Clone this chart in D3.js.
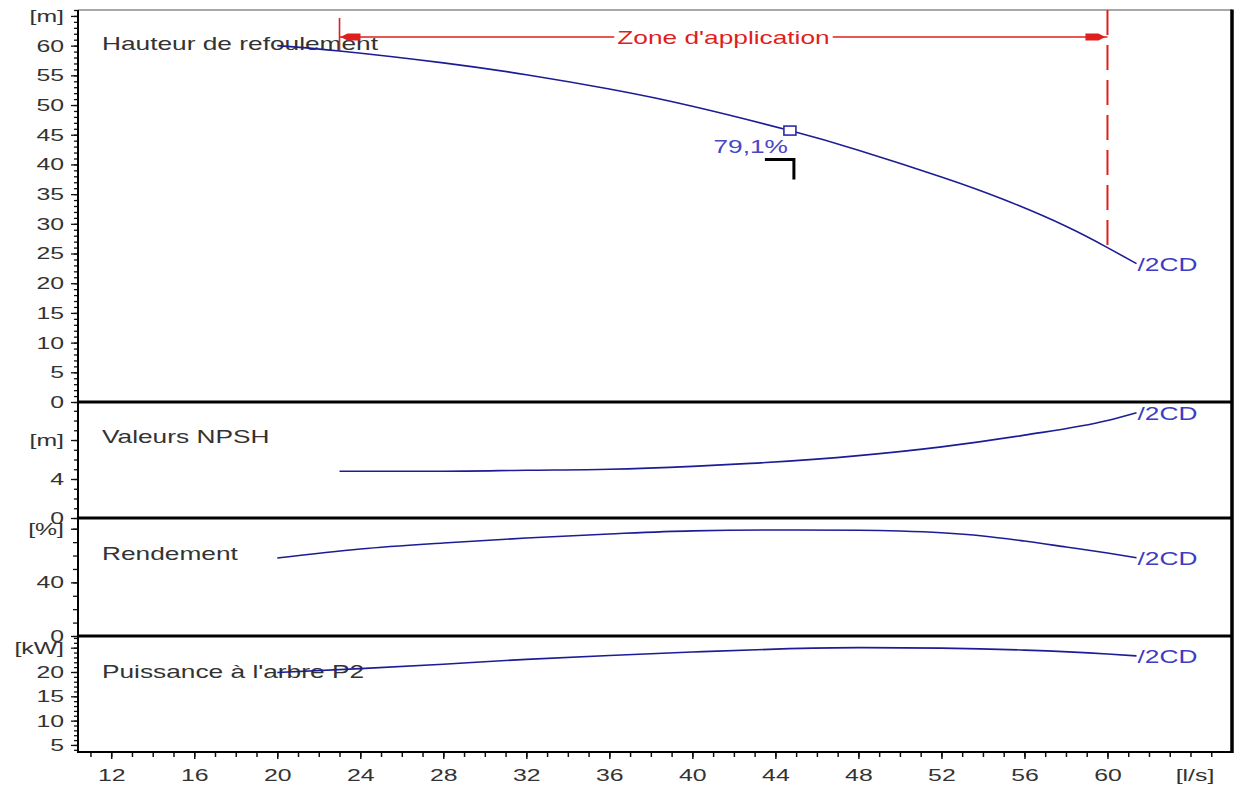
<!DOCTYPE html>
<html>
<head>
<meta charset="utf-8">
<script src="https://cdn.jsdelivr.net/npm/d3@7"></script>
<style>
  body { margin: 0; background: #fff; }
  svg { display: block; }
  text { font-family: "Liberation Sans", Arial, sans-serif; }
</style>
</head>
<body>
<svg id="chart" width="1244" height="792"></svg>
<script>
// ---- Pump curve data (flow in l/s) ----
const headFlow  = [20, 23, 28, 32, 36, 40, 44.7, 48, 52, 55, 58, 60, 61.4];
const headValues = [60.0, 59.1, 57.1, 55.1, 52.7, 49.8, 45.7, 42.4, 37.9, 34.1, 29.6, 26.0, 23.3];   // m

const npshFlow  = [23, 28, 32, 36, 40, 42.8, 48, 52, 56, 60, 61.4];
const npshValues = [4.8, 4.8, 4.9, 5.0, 5.3, 5.6, 6.4, 7.3, 8.5, 10.0, 10.8];                  // m

const effFlow   = [20, 24, 28, 32, 36, 40, 44.7, 48, 50, 52, 54, 56, 58, 60, 61.4];
const effValues = [58.2, 64.9, 69.4, 73.1, 76.1, 78.4, 79.1, 78.9, 78.3, 77.0, 74.6, 70.8, 66.4, 61.9, 58.4]; // %

const powFlow   = [20, 24, 28, 32, 36, 40, 44, 48, 52, 56, 60, 61.4];
const powValues = [19.9, 20.7, 21.6, 22.6, 23.4, 24.1, 24.7, 25.0, 24.9, 24.5, 23.7, 23.3]; // kW

const bestFlow = 44.7, bestHead = 45.7, bestEff = 79.1;
const zoneStart = 23, zoneEnd = 60;
const curveName = "/2CD";

const flowTicks = [12, 16, 20, 24, 28, 32, 36, 40, 44, 48, 52, 56, 60];
const headTicks = [0, 5, 10, 15, 20, 25, 30, 35, 40, 45, 50, 55, 60, 65];
const npshTicks = [0, 4, 8];
const effTicks  = [0, 40, 80];
const powTicks  = [5, 10, 15, 20, 25];

// ---- Layout ----
const L = 78, R = 1232, T = 10, B = 752;
const splits = [402, 518, 636];
const STRETCH = 1.46;
const curveColor = "#1c1c96", labelBlue = "#3c3cc4", red = "#e01e1e", ink = "#333";

const svg = d3.select("#chart");

const x = d3.scaleLinear([10.4, 66], [L, R]);
const yHead = d3.scaleLinear([0, 66], [splits[0], T]);
const yNpsh = d3.scaleLinear([0, 11.9], [splits[1], splits[0]]);
const yEff  = d3.scaleLinear([0, 88], [splits[2], splits[1]]);
const yPow  = d3.scaleLinear([3.55, 27.4], [B, splits[2]]);

// stretched text helper (wide screen font of the pump software)
function stretchAt(x0, y0) {
  return `translate(${x0},${y0}) scale(${STRETCH},1) translate(${-x0},${-y0})`;
}
function label(txt, x0, y0, opts = {}) {
  return svg.append("text")
    .attr("x", x0).attr("y", y0)
    .attr("font-size", opts.size || 18)
    .attr("fill", opts.fill || ink)
    .attr("text-anchor", opts.anchor || "start")
    .attr("transform", stretchAt(x0, y0))
    .text(txt);
}

// ---- Left axes (one per panel) ----
function leftAxis(scale, minors, majors, fmt, minorLen, majorLen) {
  const g = svg.append("g").attr("transform", `translate(${L},0)`);
  g.append("g")
    .call(d3.axisLeft(scale).tickValues(minors).tickSize(minorLen).tickFormat(""))
    .call(s => s.select(".domain").remove());
  const m = g.append("g")
    .call(d3.axisLeft(scale).tickValues(majors).tickSize(majorLen).tickPadding(7).tickFormat(fmt))
    .call(s => s.select(".domain").remove());
  m.selectAll("text")
    .attr("font-size", 17).attr("fill", ink).attr("font-family", null)
    .attr("transform", function () {
      const xx = +d3.select(this).attr("x");
      return `translate(${xx},0) scale(${STRETCH},1) translate(${-xx},0)`;
    });
  g.selectAll(".tick line").attr("stroke", "#111").attr("stroke-width", 1.3);
}

leftAxis(yHead, d3.range(0, 67, 1), headTicks, d => d === 65 ? "[m]" : d, 4, 7);
leftAxis(yNpsh, d3.range(0, 12, 1), npshTicks, d => d === 8 ? "[m]" : d, 4, 7);
leftAxis(yEff,  d3.range(0, 90, 10), effTicks, d => d === 80 ? "[%]" : d, 5, 7);
leftAxis(yPow,  d3.range(4, 28, 1), powTicks, d => d === 25 ? "[kW]" : d, 4, 7);

// ---- Bottom axis ----
{
  const g = svg.append("g").attr("transform", `translate(0,${B})`);
  g.append("g")
    .call(d3.axisBottom(x).tickValues(d3.range(11, 66, 1)).tickSize(5).tickFormat(""))
    .call(s => s.select(".domain").remove());
  const m = g.append("g")
    .call(d3.axisBottom(x).tickValues(flowTicks).tickSize(7).tickPadding(10))
    .call(s => s.select(".domain").remove());
  m.selectAll("text")
    .attr("font-size", 17).attr("fill", ink).attr("font-family", null)
    .attr("transform", `scale(${STRETCH},1)`);
  g.selectAll(".tick line").attr("stroke", "#111").attr("stroke-width", 1.5);
  label("[l/s]", 1195, B + 29, { size: 17, anchor: "middle" });
}

// ---- Frame and panel separators ----
svg.append("line").attr("x1", L).attr("x2", R).attr("y1", T).attr("y2", T)
  .attr("stroke", "#555").attr("stroke-width", 1.2);
svg.append("line").attr("x1", L).attr("x2", L).attr("y1", T).attr("y2", B)
  .attr("stroke", "#000").attr("stroke-width", 2);
svg.append("line").attr("x1", R).attr("x2", R).attr("y1", T - 0.5).attr("y2", B + 1)
  .attr("stroke", "#000").attr("stroke-width", 3.5);
svg.append("line").attr("x1", L - 1).attr("x2", R).attr("y1", B).attr("y2", B)
  .attr("stroke", "#000").attr("stroke-width", 2);
splits.forEach(yy => {
  svg.append("line").attr("x1", L - 1).attr("x2", R).attr("y1", yy).attr("y2", yy)
    .attr("stroke", "#000").attr("stroke-width", 3);
});

// ---- Panel titles ----
label("Hauteur de refoulement", 102, 50);
label("Valeurs NPSH", 102, 443);
label("Rendement", 102, 560);
label("Puissance à l'arbre P2", 102, 678);

// ---- Operating zone (Zone d'application) ----
const zx0 = x(zoneStart), zx1 = x(zoneEnd), zy = 37;
const headAt = q => headValues[headFlow.indexOf(q)];
svg.append("line").attr("x1", zx1).attr("x2", zx1).attr("y1", T).attr("y2", yHead(headAt(zoneEnd)))
  .attr("stroke", red).attr("stroke-width", 2).attr("stroke-dasharray", "25,10");
svg.append("line").attr("x1", zx0).attr("x2", zx0).attr("y1", 18).attr("y2", yHead(headAt(zoneStart)))
  .attr("stroke", red).attr("stroke-width", 1.6);
svg.append("line").attr("x1", zx0).attr("x2", zx1).attr("y1", zy).attr("y2", zy)
  .attr("stroke", red).attr("stroke-width", 1.5);
const arrow = (tip, dir) => {
  const p = [[tip, zy], [tip + dir * 7, zy - 3.5], [tip + dir * 20, zy - 3.5],
             [tip + dir * 20, zy + 3.5], [tip + dir * 7, zy + 3.5]];
  svg.append("polygon").attr("points", p.map(d => d.join(",")).join(" ")).attr("fill", red);
};
arrow(zx0 + 1, 1);
arrow(zx1 - 2, -1);
{
  const zt = label("Zone d'application", (zx0 + zx1) / 2, zy + 7, { fill: red, anchor: "middle" });
  const w = zt.node().getBBox().width * STRETCH;
  svg.append("rect")
    .attr("x", (zx0 + zx1) / 2 - w / 2 - 3).attr("y", zy - 3)
    .attr("width", w + 6).attr("height", 6).attr("fill", "#fff");
  zt.raise();
}

// ---- Curves ----
function drawCurve(flow, vals, yScale, curve) {
  const pts = flow.map((q, i) => [x(q), yScale(vals[i])]);
  svg.append("path")
    .attr("d", d3.line().curve(curve)(pts))
    .attr("fill", "none").attr("stroke", curveColor).attr("stroke-width", 1.6);
  const last = pts[pts.length - 1];
  label(curveName, last[0] + 1, last[1] + 7, { fill: labelBlue });
}
drawCurve(headFlow, headValues, yHead, d3.curveNatural);
drawCurve(npshFlow, npshValues, yNpsh, d3.curveMonotoneX);
drawCurve(effFlow, effValues, yEff, d3.curveMonotoneX);
drawCurve(powFlow, powValues, yPow, d3.curveMonotoneX);

// ---- Best efficiency point ----
const bx = x(bestFlow), by = yHead(bestHead);
svg.append("rect").attr("x", bx - 6).attr("y", by - 4.5).attr("width", 12).attr("height", 9)
  .attr("fill", "#fff").attr("stroke", "#2a2aaa").attr("stroke-width", 1.6);
label(String(bestEff).replace(".", ",") + "%", bx - 2, by + 22, { fill: "#4848c4", anchor: "end" });
svg.append("path")
  .attr("d", `M${bx - 25},${by + 29} H${bx + 4} V${by + 49}`)
  .attr("fill", "none").attr("stroke", "#000").attr("stroke-width", 3);
</script>
</body>
</html>
